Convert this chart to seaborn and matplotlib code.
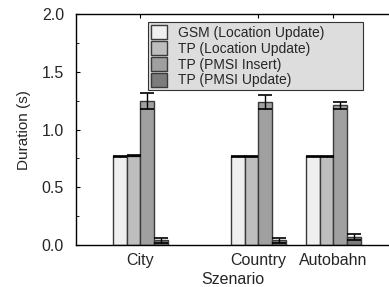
import pandas as pd
import numpy as np
import matplotlib
matplotlib.use("Agg")
import matplotlib.pyplot as plt
import seaborn as sns
from matplotlib.ticker import MultipleLocator

# Daten
szenarien = ["City", "Country", "Autobahn"]
slot = [1.0, 2.57, 3.57]  # Lage der Gruppen auf der x-Achse
messungen = ["GSM (Location Update)", "TP (Location Update)",
             "TP (PMSI Insert)", "TP (PMSI Update)"]
gsm_lu = [0.77, 0.77, 0.77]
tp_lu = [0.775, 0.77, 0.77]
tp_insert = [1.25, 1.24, 1.21]
tp_update = [0.04, 0.04, 0.07]
err_gsm_lu = [0.004, 0.004, 0.004]
err_tp_lu = [0.004, 0.004, 0.004]
err_insert = [0.07, 0.06, 0.03]
err_update = [0.025, 0.025, 0.025]

farben = ["#efefef", "#bebebe", "#a0a0a0", "#7c7c7c"]

rows = []
for name, werte, fehler in zip(messungen,
                               [gsm_lu, tp_lu, tp_insert, tp_update],
                               [err_gsm_lu, err_tp_lu, err_insert, err_update]):
    for s, x, w, e in zip(szenarien, slot, werte, fehler):
        rows.append({"szenario": s, "x": x, "typ": name, "dauer": w, "err": e})
df = pd.DataFrame(rows)

sns.set_style("ticks")
plt.rcParams["font.family"] = ["Liberation Sans", "DejaVu Sans"]

fig = plt.figure(figsize=(3.89, 2.87), dpi=100)
ax = fig.add_axes([0.195, 0.146, 0.805, 0.805])

sns.barplot(data=df, x="x", y="dauer", hue="typ", hue_order=messungen,
            palette=farben, native_scale=True, width=0.733, errorbar=None,
            edgecolor="#3a3a3a", linewidth=1.0, ax=ax, legend=True)

# Fehlerbalken an den von seaborn gesetzten Balken
for bar_cont, name in zip(ax.containers, messungen):
    sub = df[df["typ"] == name]
    xs = [p.get_x() + p.get_width() / 2 for p in bar_cont]
    ax.errorbar(xs, sub["dauer"].values, yerr=sub["err"].values, fmt="none",
                ecolor="black", elinewidth=1.0, capsize=5, capthick=1.2, zorder=5)

ax.set_xlim(0.14, 4.31)
ax.set_ylim(0, 2.0)
ax.set_xticks(slot)
ax.set_xticklabels(szenarien)
ax.yaxis.set_major_locator(MultipleLocator(0.5))
ax.yaxis.set_minor_locator(MultipleLocator(0.25))
ax.yaxis.set_major_formatter(matplotlib.ticker.FormatStrFormatter("%.1f"))
ax.tick_params(axis="x", direction="in", top=True, bottom=False, length=3,
               labelsize=11.5, pad=5.5, color="black")
ax.tick_params(axis="y", which="both", direction="in", length=3, labelsize=11.5,
               pad=8.5, color="black")
ax.tick_params(axis="y", which="minor", length=2)
ax.set_xlabel("Szenario", fontsize=11.5, labelpad=3)
ax.set_ylabel("Duration (s)", fontsize=11, labelpad=8)
for sp in ["left", "bottom", "top"]:
    ax.spines[sp].set_color("black")
    ax.spines[sp].set_linewidth(1.0)
ax.spines["right"].set_visible(False)

leg = ax.legend(loc="upper left", bbox_to_anchor=(0.23, 0.0, 0.687, 0.965),
                mode="expand", borderaxespad=0,
                frameon=True, fancybox=False, framealpha=1, fontsize=10,
                handlelength=1.2, handleheight=1.2, handletextpad=0.75,
                labelspacing=0.08, borderpad=0.2)
leg.get_frame().set_facecolor("#dddddd")
leg.get_frame().set_edgecolor("#333333")
leg.get_frame().set_linewidth(0.8)

fig.savefig("out.png", dpi=100)
